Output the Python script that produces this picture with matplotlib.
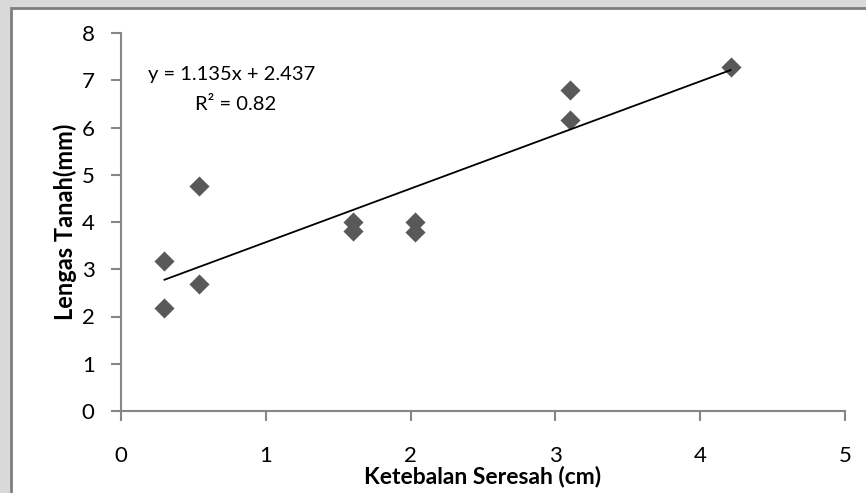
import numpy as np
import matplotlib
matplotlib.use("Agg")
import matplotlib.pyplot as plt
from matplotlib.patches import Rectangle

plt.rcParams['font.family'] = ['Lato', 'DejaVu Sans']

# data
ketebalan = [0.30, 0.30, 0.54, 0.54, 1.60, 1.60, 2.03, 2.03, 3.10, 3.10, 4.21]
lengas = [3.17, 2.17, 2.69, 4.77, 4.00, 3.82, 4.00, 3.78, 6.80, 6.15, 7.29]
slope = 1.135
intercept = 2.437
r2 = 0.82
x_ticks = [0, 1, 2, 3, 4, 5]
y_ticks = [0, 1, 2, 3, 4, 5, 6, 7, 8]

axis_grey = '#868686'

fig = plt.figure(figsize=(8.66, 4.93), dpi=100)
fig.patch.set_facecolor('#d9d9d9')

# white chart box with grey frame (runs off the right and bottom edges)
box = Rectangle((11 / 866, -0.05), 1.0, 1 - 8 / 493 + 0.05, transform=fig.transFigure,
                facecolor='white', edgecolor='#7f7f7f', linewidth=2, zorder=-5)
fig.patches.append(box)

ax = fig.add_axes([121 / 866, 1 - 411 / 493, 724 / 866, 378 / 493])
ax.set_facecolor('none')
ax.set_zorder(2)

ax.scatter(ketebalan, lengas, marker='D', s=105, color='#595959', zorder=3,
           linewidths=0)

# linear trend line over the data range
xs = np.array([min(ketebalan), max(ketebalan)])
ax.plot(xs, slope * xs + intercept, color='black', linewidth=1.3, zorder=4)

ax.text(0.037, 0.889, 'y = %.3fx + %.3f' % (slope, intercept), transform=ax.transAxes,
        fontsize=14.5, va='center', ha='left')
ax.text(0.102, 0.81, 'R² = %.2f' % r2, transform=ax.transAxes,
        fontsize=14.5, va='center', ha='left')

ax.set_xlim(0, 5)
ax.set_ylim(0, 8)
ax.set_xticks(x_ticks)
ax.set_yticks(y_ticks)

for s in ['top', 'right']:
    ax.spines[s].set_visible(False)
for s in ['left', 'bottom']:
    ax.spines[s].set_color(axis_grey)
    ax.spines[s].set_linewidth(1.5)

ax.tick_params(axis='both', direction='out', length=7, width=1.5, color=axis_grey,
               labelsize=16, labelcolor='black')
ax.tick_params(axis='y', pad=12)
ax.tick_params(axis='x', pad=18)

ax.set_xlabel('Ketebalan Seresah (cm)', fontsize=16.5, fontweight='bold', labelpad=0)
ax.set_ylabel('Lengas Tanah(mm)', fontsize=17, fontweight='bold', labelpad=0)
ax.xaxis.set_label_coords(0.5, -0.145)
ax.yaxis.set_label_coords(-0.061, 0.5)

fig.savefig('out.png', dpi=100, facecolor=fig.get_facecolor())
